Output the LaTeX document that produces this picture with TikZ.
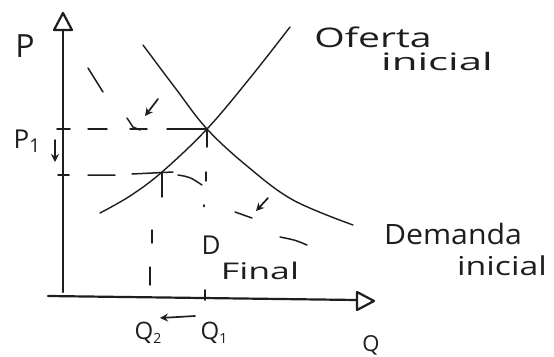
\documentclass[tikz,border=0pt]{standalone}
\usepackage{fontspec}
\usepackage{graphicx}
\setmainfont{Open Sans}
\newfontfamily\hand{Open Sans}
\usetikzlibrary{arrows.meta}
\definecolor{inkc}{HTML}{1E1E1E}
\begin{document}
\begin{tikzpicture}[x=1pt,y=-1pt,
  ink/.style={draw=inkc, line width=1.4pt, line cap=round},
  axisline/.style={draw=inkc, line width=2.2pt, line cap=round},
  tipshape/.style={draw=inkc, line width=2.2pt, line join=round},
  stroke/.style={draw=inkc, line width=1.5pt, line cap=round},
  lbl/.style={text=inkc, inner sep=0pt, font=\hand\fontsize{26}{30}\selectfont},
  shiftarrow/.style={draw=inkc, line width=1.7pt, line cap=round, -{Stealth[length=8pt,width=8pt]}}
]
\useasboundingbox[fill=white] (0,0) rectangle (554,356);

% key points
\coordinate (ytop) at (63,30);
\coordinate (ybot) at (63,292);
\coordinate (xstart) at (48,296);
\coordinate (xend) at (357,300);
\coordinate (E1) at (207,129);
\coordinate (E2) at (162,172);

% axes
\draw[axisline] (ybot) -- (ytop);
\draw[tipshape] (63,13) -- (54,30) -- (72,30) -- cycle;
\draw[axisline] (xstart) -- (xend);
\draw[tipshape] (374,301) -- (357,292) -- (357,310) -- cycle;

% ticks
\draw[stroke, line width=1.7pt] (57,129) -- (70,129);
\draw[stroke, line width=1.7pt] (58,175) -- (69,175);
\draw[stroke, line width=1.7pt] (205,290) -- (205,300);

% guide lines (hand dashes)
\draw[stroke] (88,129) -- (107,129) (130,129) -- (147,129) (167,129) -- (E1);
\draw[stroke] (88,175) -- (115,175) (132,174) -- (173,172);
\draw[stroke] (E1) -- (207,147) (206,172) -- (206,181) (204,205) -- (204,206.5);
\draw[stroke] (E2) -- (162,197) (152,230) -- (152,243) (150,267) -- (150,285);

% curves
\draw[ink] plot[smooth, tension=0.6] coordinates {(100,213) (130,196) (E2) (E1) (250,78) (290,27)};
\draw[ink] plot[smooth, tension=0.6] coordinates {(143,45) (176,89) (E1) (247,166) (293,200) (353,225)};
% final demand (dashed by hand)
\draw[stroke] (88,68) -- (103,92)
  (127,118) -- (133,127) -- (140,130)
  (178,175) .. controls (190,177) .. (202,185)
  (235,212) -- (252,218)
  (280,237) .. controls (295,240) .. (307,245);

% shift arrows
\draw[shiftarrow] (158,99) -- (145,116);
\draw[shiftarrow] (268,198) -- (256,211);
\draw[shiftarrow] (55,140) -- (55,162);
\draw[shiftarrow] (195,316) -- (160,318);

% labels
\node[lbl, font=\hand\fontsize{32}{36}\selectfont] (lP) at (25,46) {P};
\node[lbl] (lP1) at (27,141) {P\raisebox{-0.25ex}{\fontsize{19}{20}\selectfont 1}};
\node[lbl, font=\hand\fontsize{27}{32}\selectfont] (lOf) at (373,37) {\scalebox{1.45}[1]{Oferta}};
\node[lbl, font=\hand\fontsize{24}{28}\selectfont] (lOi) at (437,61) {\scalebox{1.75}[1]{inicial}};
\node[lbl, font=\hand\fontsize{28}{32}\selectfont] (lDem) at (453,234) {\scalebox{1.08}[1]{Demanda}};
\node[lbl, font=\hand\fontsize{26}{30}\selectfont] (lDi) at (502,266) {\scalebox{1.3}[1]{inicial}};
\node[lbl] (lD) at (211,245) {D};
\node[lbl, font=\hand\fontsize{23}{26}\selectfont] (lFin) at (260,271) {\scalebox{1.55}[1]{Final}};
\node[lbl, font=\hand\fontsize{24}{28}\selectfont] (lQ2) at (148,333) {Q\raisebox{-0.3ex}{\fontsize{14}{15}\selectfont 2}};
\node[lbl, font=\hand\fontsize{24}{28}\selectfont] (lQ1) at (214,333) {Q\raisebox{-0.3ex}{\fontsize{14}{15}\selectfont 1}};
\node[lbl, font=\hand\fontsize{22}{26}\selectfont] (lQ) at (371,345) {Q};
\end{tikzpicture}
\end{document}
